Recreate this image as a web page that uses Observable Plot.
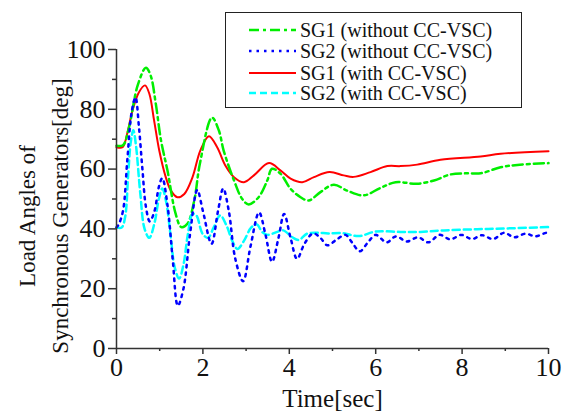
<!DOCTYPE html>
<html>
<head>
<meta charset="utf-8">
<script src="https://cdn.jsdelivr.net/npm/d3@7"></script>
<script src="https://cdn.jsdelivr.net/npm/@observablehq/plot@0.6"></script>
<style>
  html, body { margin: 0; padding: 0; background: #fff; }
  #wrap { position: relative; width: 572px; height: 419px; }
  #legend { position: absolute; left: 225px; top: 12px; width: 295px; height: 94px;
    border: 1px solid #222; background: #fff; box-sizing: content-box;
    font-family: "Liberation Serif", "Times New Roman", serif; font-size: 20px; color: #111; }
  .row { position: absolute; left: 0; height: 20px; display: flex; align-items: center; white-space: nowrap; }
  .row svg { margin-left: 23px; margin-right: 4px; }
</style>
</head>
<body>
<div id="wrap">
  <div id="chart"></div>
  <div id="legend"></div>
</div>
<script>
// ---- data ----
const seriesNames = ["SG1 (without CC-VSC)", "SG2 (without CC-VSC)", "SG1 (with CC-VSC)", "SG2 (with CC-VSC)"];
const seriesColors = ["#00ee00", "#0000ff", "#ff0000", "#00ffff"];

const tSG1without = [0, 0.15, 0.29, 0.49, 0.68, 0.79, 0.91, 1.03, 1.18, 1.37, 1.5, 1.64, 1.8, 1.93, 2.21, 2.37, 2.48, 2.72, 2.91, 3.06, 3.29, 3.49, 3.6, 3.8, 4.03, 4.26, 4.45, 4.72, 5.03, 5.34, 5.72, 6.11, 6.46, 6.96, 7.35, 7.73, 8.12, 8.43, 8.89, 9.28, 10];
const vSG1without = [67.8, 68, 74, 88, 93.9, 91.3, 81.8, 69.6, 59.5, 45, 40.6, 41.7, 49.5, 61.8, 77.2, 72.9, 66.2, 56.2, 50, 48.2, 50.6, 56.2, 60.1, 58.4, 53.4, 50.6, 49.5, 52.3, 54.8, 52.8, 51.2, 53.7, 55.6, 55.1, 56.2, 58.2, 58.6, 58.6, 60.6, 61.4, 62];

const tSG2without = [0, 0.05, 0.15, 0.25, 0.35, 0.44, 0.52, 0.6, 0.68, 0.77, 0.88, 0.98, 1.06, 1.18, 1.3, 1.42, 1.55, 1.7, 1.87, 2.0, 2.2, 2.35, 2.47, 2.6, 2.75, 2.93, 3.1, 3.3, 3.45, 3.6, 3.75, 3.88, 4.03, 4.18, 4.35, 4.55, 4.72, 4.88, 5.1, 5.3, 5.45, 5.63, 5.82, 6.0, 6.25, 6.47, 6.72, 6.98, 7.22, 7.48, 7.73, 7.98, 8.23, 8.46, 8.72, 8.97, 9.21, 9.47, 9.7, 9.95, 10];
const vSG2without = [40.5, 41.5, 46, 63, 79, 84, 74, 60, 47.5, 42.5, 46, 54, 57, 48, 30, 14.3, 20, 38, 53, 46, 35, 46, 53.5, 46, 30, 22.5, 34, 45.5, 38, 29, 37, 45, 37, 30, 35, 38.5, 37, 34.5, 36.5, 38, 35.5, 32.5, 35.5, 38, 35.5, 37.5, 35.8, 37.2, 35.5, 38, 36.5, 38, 36.6, 37.9, 36.6, 38.7, 37.2, 38.4, 37.5, 38.7, 38.6];

const tSG1with = [0, 0.14, 0.25, 0.37, 0.52, 0.66, 0.76, 0.87, 0.99, 1.14, 1.26, 1.41, 1.57, 1.76, 1.94, 2.14, 2.33, 2.52, 2.72, 2.95, 3.18, 3.53, 3.8, 4.03, 4.3, 4.57, 4.93, 5.26, 5.49, 5.88, 6.27, 6.57, 6.96, 7.5, 8.43, 8.89, 10];
const vSG1with = [67.3, 67.3, 72, 79.6, 85.7, 88, 85.2, 76.3, 66.2, 57.3, 52.8, 50.6, 51.7, 57.3, 66.2, 71, 67.3, 61.2, 57.3, 55.6, 57.9, 62, 59.5, 56.8, 55.6, 57.3, 59, 57.9, 57.4, 59, 61, 61, 61.5, 63.1, 64.2, 65.1, 66];

const tSG2with = [0, 0.12, 0.2, 0.27, 0.33, 0.39, 0.45, 0.55, 0.65, 0.76, 0.88, 0.98, 1.06, 1.15, 1.25, 1.35, 1.45, 1.55, 1.65, 1.76, 1.85, 1.99, 2.12, 2.25, 2.4, 2.55, 2.68, 2.8, 2.95, 3.12, 3.25, 3.37, 3.5, 3.72, 3.86, 4.07, 4.22, 4.41, 4.65, 4.9, 5.22, 5.61, 6.0, 6.57, 7.04, 7.58, 8.35, 9.12, 10];
const vSG2with = [40.5, 40.5, 44, 58, 69, 73, 68, 52, 40, 37, 42, 50, 53.5, 49, 38, 27, 23.4, 28, 38, 45, 44.5, 38.4, 37, 40.5, 44.5, 41, 36, 33.3, 36, 40.5, 41.5, 39, 38, 39, 39.5, 37.2, 36.3, 38.4, 38.7, 38.5, 38.6, 37.6, 39.1, 39, 39, 39.5, 39.9, 40.2, 40.6];

const xMajorTicks = [0, 2, 4, 6, 8, 10];
const xMinorTicks = [1, 3, 5, 7, 9];
const yMajorTicks = [0, 20, 40, 60, 80, 100];
const yMinorTicks = [10, 30, 50, 70, 90];
const xTitle = "Time[sec]";
const yTitle1 = "Load Angles of";
const yTitle2 = "Synchronous Generators[deg]";

// ---- build tables ----
const allT = [tSG1without, tSG2without, tSG1with, tSG2with];
const allV = [vSG1without, vSG2without, vSG1with, vSG2with];
const styles = [
  {strokeWidth: 2.5, strokeDasharray: "10,4,3,4"},
  {strokeWidth: 2.5, strokeDasharray: "2.5,5"},
  {strokeWidth: 2, strokeDasharray: null},
  {strokeWidth: 2.5, strokeDasharray: "7,4"}
];
const tables = allT.map((ts, i) => ts.map((t, j) => ({t, v: allV[i][j]})));

const font = "'Liberation Serif', 'Times New Roman', serif";
const lineMarks = [2, 0, 3, 1].map(i => Plot.line(tables[i], {
  x: "t", y: "v", stroke: seriesColors[i], curve: "catmull-rom",
  strokeWidth: styles[i].strokeWidth, strokeDasharray: styles[i].strokeDasharray
}));

const chart = Plot.plot({
  width: 572, height: 419,
  marginLeft: 116, marginRight: 24, marginTop: 49, marginBottom: 71,
  style: {fontFamily: font, fontSize: "26px", color: "#111", background: "#fff"},
  x: {domain: [0, 10]},
  y: {domain: [0, 100]},
  marks: [
    ...lineMarks,
    Plot.ruleX([0], {stroke: "#333", strokeWidth: 1.5}),
    Plot.ruleY([0], {stroke: "#333", strokeWidth: 1.5}),
    Plot.axisX({ticks: xMajorTicks, tickSize: 6, tickPadding: 3, label: null, stroke: "#333", strokeWidth: 1.5, fontSize: 26, fill: "#111"}),
    Plot.axisX({ticks: xMinorTicks, tickSize: 3, text: null, label: null, stroke: "#333", strokeWidth: 1.5}),
    Plot.axisY({ticks: yMajorTicks, tickSize: 8, tickPadding: 3, label: null, stroke: "#333", strokeWidth: 1.5, fontSize: 26, fill: "#111"}),
    Plot.axisY({ticks: yMinorTicks, tickSize: 4, text: null, label: null, stroke: "#333", strokeWidth: 1.5}),
    Plot.text([xTitle], {frameAnchor: "bottom", dy: 58, fontSize: 25, fill: "#111"}),
    Plot.text([yTitle1], {frameAnchor: "left", textAnchor: "middle", rotate: -90, dx: -89, dy: 17, fontSize: 23, fill: "#111"}),
    Plot.text([yTitle2], {frameAnchor: "left", textAnchor: "middle", rotate: -90, dx: -56, dy: 17, fontSize: 23, fill: "#111"})
  ]
});
document.getElementById("chart").appendChild(chart);

// ---- legend ----
const legend = document.getElementById("legend");
const rowTops = [7, 28, 50, 70];
seriesNames.forEach((name, i) => {
  const row = document.createElement("div");
  row.className = "row";
  row.style.top = rowTops[i] + "px";
  const dash = styles[i].strokeDasharray ? `stroke-dasharray="${styles[i].strokeDasharray}"` : "";
  row.innerHTML = `<svg width="47" height="10"><line x1="0" y1="5" x2="47" y2="5" stroke="${seriesColors[i]}" stroke-width="${styles[i].strokeWidth}" ${dash}/></svg><span>${name}</span>`;
  legend.appendChild(row);
});
</script>
</body>
</html>
